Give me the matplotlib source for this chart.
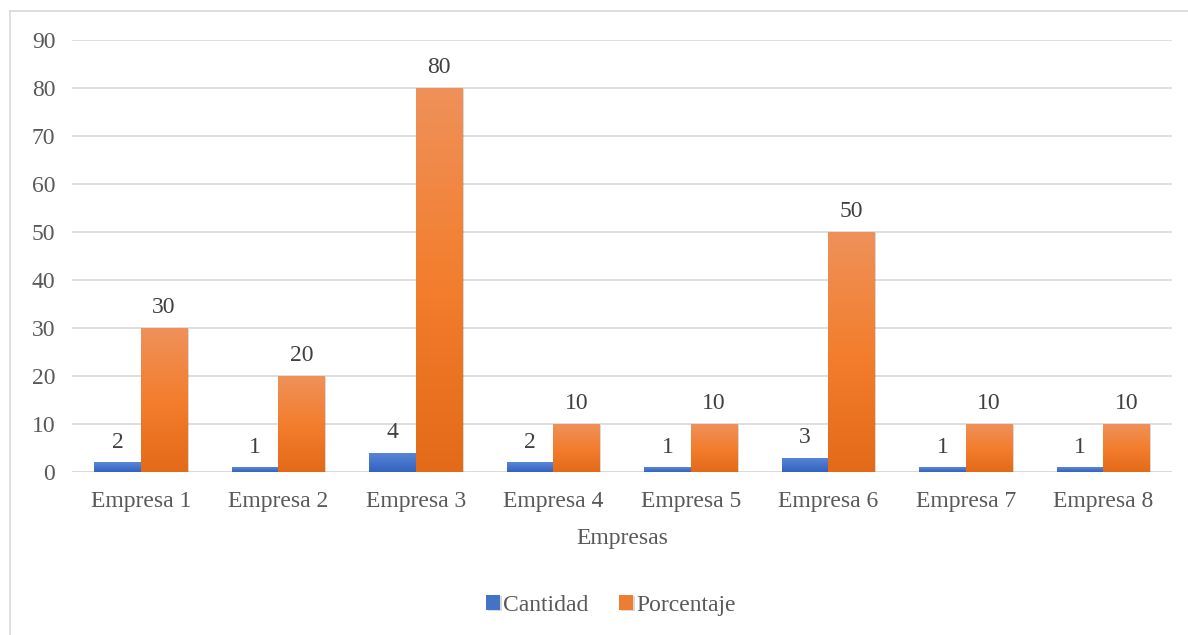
import numpy as np
import matplotlib.pyplot as plt
from matplotlib.colors import LinearSegmentedColormap
import matplotlib.patheffects as pe

empresas = ["Empresa 1", "Empresa 2", "Empresa 3", "Empresa 4",
            "Empresa 5", "Empresa 6", "Empresa 7", "Empresa 8"]
cantidad = [2, 1, 4, 2, 1, 3, 1, 1]
porcentaje = [30, 20, 80, 10, 10, 50, 10, 10]

plt.rcParams["font.family"] = ["Liberation Serif", "DejaVu Serif"]
FS = 17

fig = plt.figure(figsize=(11.88, 6.35), dpi=100)
ax = fig.add_axes([72 / 1188, 1 - 472 / 635, 1100 / 1188, 432 / 635])

# light frame (top and left edges only)
fig.add_artist(plt.Line2D([10 / 1188, 10 / 1188], [0, 1 - 11 / 635],
                          transform=fig.transFigure, color="#d9d9d9", lw=1.2))
fig.add_artist(plt.Line2D([10 / 1188, 1], [1 - 11 / 635, 1 - 11 / 635],
                          transform=fig.transFigure, color="#d9d9d9", lw=1.2))

x = np.arange(len(empresas))
w = 0.338

cmap_blue = LinearSegmentedColormap.from_list("b", ["#3462bf", "#4674cc", "#5a88d6"])
cmap_orange = LinearSegmentedColormap.from_list("o", ["#e36a18", "#f37e2e", "#ef915a"])

shadow = [pe.SimplePatchShadow(offset=(1.0, -1.0), shadow_rgbFace="#000000", alpha=0.15), pe.Normal()]
bars_c = ax.bar(x - w / 2, cantidad, w, color="#4472c4", label="Cantidad", zorder=3, path_effects=shadow)
bars_p = ax.bar(x + w / 2, porcentaje, w, color="#ed7d31", label="Porcentaje", zorder=3, path_effects=shadow)

grad = np.linspace(0, 1, 256).reshape(-1, 1)
for bars, cmap in ((bars_c, cmap_blue), (bars_p, cmap_orange)):
    for b in bars:
        x0, y0 = b.get_x(), b.get_y()
        im = ax.imshow(grad, cmap=cmap, origin="lower", aspect="auto",
                       extent=[x0, x0 + b.get_width(), y0, y0 + b.get_height()], zorder=4)
        im.set_clip_path(b)

for bars, vals in ((bars_c, cantidad), (bars_p, porcentaje)):
    for b, v in zip(bars, vals):
        ax.text(b.get_x() + b.get_width() / 2, v + 2.0, str(v), ha="center", va="bottom",
                fontsize=FS, color="#404040")

ax.set_xlim(-0.5, len(empresas) - 0.5)
ax.set_ylim(0, 90)
ax.set_yticks(range(0, 91, 10))
ax.set_xticks(x)
ax.set_xticklabels(empresas)
ax.tick_params(axis="both", length=0, labelsize=FS, colors="#595959")
ax.tick_params(axis="x", pad=14)
ax.tick_params(axis="y", pad=12)
ax.grid(axis="y", color="#d9d9d9", lw=1.2, zorder=0)
ax.set_axisbelow(True)
for s in ax.spines.values():
    s.set_visible(False)
ax.axhline(0, color="#d9d9d9", lw=1.2, zorder=2)

ax.set_xlabel("Empresas", fontsize=FS, color="#595959", labelpad=11)

leg = ax.legend(loc="upper center", bbox_to_anchor=(0.49, -0.235), ncol=2, frameon=False,
                fontsize=FS, handlelength=0.6, handleheight=0.6, handletextpad=0.12,
                columnspacing=1.3, labelcolor="#595959")

fig.savefig("out.png", dpi=100, facecolor="white")
